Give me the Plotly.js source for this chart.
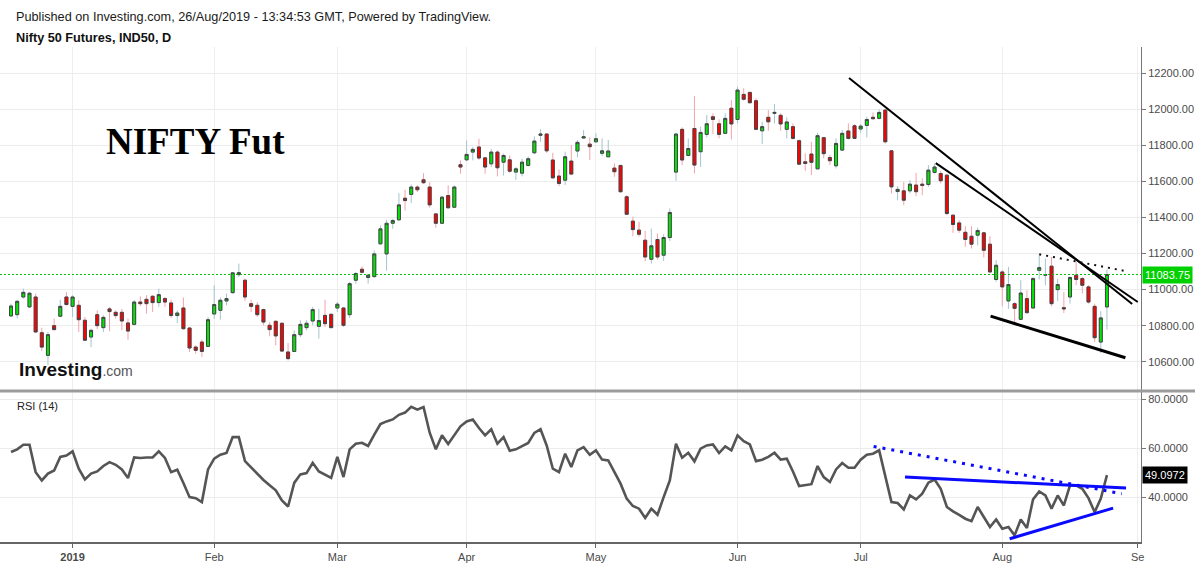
<!DOCTYPE html>
<html><head><meta charset="utf-8">
<script src="https://cdn.plot.ly/plotly-3.0.1.min.js"></script>
<style>html,body{margin:0;padding:0;background:#fff;}#chart{width:1200px;height:565px;}</style>
</head><body><div id="chart"></div>
<script>
// ---- Daily OHLC, Nifty 50 Futures (bar order, oldest first) ----
const openP = [10854,10861,10959,10904,10959,10761,10635,10800,10852,10959,
10907,10913,10830,10737,10861,10789,10893,10874,10874,10815,
10807,10931,10946,10963,10928,10950,10926,10856,10898,10787,
10681,10709,10685,10865,10885,10937,10983,11083,11052,10922,
10913,10889,10802,10824,10813,10654,10657,10750,10789,10826,
10796,10857,10863,10898,10898,10861,11052,11113,11067,11072,
11254,11198,11368,11387,11507,11528,11569,11609,11569,11420,
11368,11522,11457,11693,11720,11763,11791,11731,11698,11763,
11707,11720,11652,11646,11689,11759,11856,11863,11719,11630,
11607,11713,11769,11841,11807,11820,11756,11737,11674,11689,
11515,11380,11330,11274,11168,11278,11191,11289,11652,11889,
11744,11894,11765,11861,11959,11920,11867,12006,11944,12083,
12094,12048,11881,11956,11978,11967,11889,11904,11826,11709,
11752,11670,11843,11733,11687,11774,11880,11909,11891,11911,
11956,11950,11996,11770,11544,11548,11548,11580,11585,11583,
11650,11644,11635,11413,11370,11318,11296,11302,11315,11252,
11056,11098,10937,10922,10835,10950,10898,11107,11080,11130,
11000,10900,10959,11080,11061,11015,10907,10709,10904];
const highP = [10922,10944,11006,10987,10978,10789,10765,10839,10944,10987,
10969,10941,10848,10783,10885,10857,10904,10885,10893,10839,
10941,10963,10969,10969,11006,10959,10944,10885,10956,10793,
10691,10722,10848,11024,10956,10978,11098,11144,11061,10944,
10931,10894,10820,10830,10820,10704,10774,10830,10830,10904,
10894,10944,10867,10931,10904,11043,11098,11130,11085,11217,
11356,11387,11393,11535,11554,11583,11578,11646,11596,11424,
11517,11578,11578,11717,11828,11791,11837,11735,11781,11772,
11754,11744,11680,11726,11739,11850,11889,11867,11759,11667,
11765,11802,11830,11885,11844,11867,11839,11830,11700,11691,
11524,11404,11376,11326,11339,11311,11307,11450,11870,11900,
11839,12074,11904,11969,11978,11944,11978,12052,12126,12117,
12098,12061,11931,11996,12030,11978,11956,11922,11833,11756,
11820,11870,11848,11746,11839,11885,11922,11917,11919,11959,
11983,12000,12000,11774,11574,11598,11607,11648,11617,11691,
11700,11659,11641,11417,11385,11352,11352,11344,11320,11296,
11163,11107,11126,10931,11052,10996,11070,11196,11172,11181,
11061,10987,11074,11154,11070,11024,10922,10880,11111];
const lowP = [10848,10839,10950,10900,10759,10659,10580,10774,10848,10913,
10848,10765,10715,10681,10781,10765,10769,10839,10774,10722,
10802,10909,10867,10876,10904,10904,10843,10815,10778,10654,
10644,10626,10681,10839,10833,10913,10978,11070,10937,10876,
10848,10802,10741,10691,10654,10607,10654,10737,10774,10802,
10728,10793,10785,10876,10793,10843,11033,11089,11033,11068,
11250,11105,11337,11383,11439,11480,11541,11587,11454,11343,
11365,11448,11454,11643,11713,11717,11720,11643,11680,11628,
11633,11648,11609,11628,11683,11754,11820,11759,11615,11574,
11580,11635,11733,11837,11719,11815,11741,11733,11626,11537,
11413,11296,11293,11157,11144,11167,11159,11270,11604,11691,
11741,11644,11681,11844,11863,11839,11863,11833,11922,12048,
12030,11885,11807,11881,11922,11881,11839,11833,11691,11659,
11635,11667,11728,11691,11672,11770,11833,11835,11870,11844,
11944,11944,11811,11533,11496,11468,11533,11518,11524,11570,
11644,11589,11413,11315,11315,11237,11228,11246,11178,11093,
11043,10907,10894,10806,10833,10867,10894,11056,11024,10907,
10937,10870,10922,11024,10978,10922,10709,10648,10778];
const closeP = [10909,10935,10985,10980,10765,10681,10750,10778,10907,10917,
10959,10833,10719,10774,10800,10846,10878,10856,10826,10770,
10931,10922,10922,10928,10972,10931,10856,10870,10783,10676,
10663,10657,10833,10917,10941,10950,11093,11094,10959,10907,
10861,10820,10778,10743,10659,10617,10750,10807,10813,10889,
10828,10811,10789,10919,10802,11033,11089,11096,11080,11198,
11337,11368,11383,11470,11494,11569,11554,11593,11470,11368,
11513,11454,11569,11680,11750,11778,11730,11680,11763,11676,
11744,11657,11670,11707,11726,11824,11863,11770,11620,11589,
11737,11641,11817,11848,11793,11837,11770,11769,11654,11543,
11418,11333,11307,11181,11243,11181,11289,11428,11863,11719,
11783,11691,11872,11920,11944,11861,11950,11919,12107,12056,
12037,11889,11904,11931,11983,11919,11930,11839,11696,11700,
11706,11854,11754,11715,11811,11867,11839,11839,11907,11944,
11948,11983,11820,11570,11556,11496,11585,11543,11578,11663,
11680,11604,11422,11361,11330,11278,11252,11328,11218,11098,
11135,11015,11028,10896,10981,10872,11061,11122,11083,10922,
11028,10893,11067,11056,11024,10931,10733,10843,11083.75];
// ---- RSI (14) ----
const rsi = [58.5,59.6,61.5,61.5,50.3,46.9,49.7,51.0,56.5,57.1,
58.8,51.7,47.3,49.7,50.6,52.8,54.4,53.3,51.4,47.9,
56.3,56.1,56.3,56.3,58.8,56.1,50.3,51.3,45.9,40.1,
39.7,38.1,51.4,55.8,57.4,58.1,64.6,64.6,54.8,52.2,
49.4,47.1,45.0,42.9,38.8,36.3,45.9,49.4,49.9,54.1,
50.6,49.4,48.0,56.5,48.3,59.6,61.9,62.3,61.0,65.6,
69.9,71.0,71.8,73.7,74.6,77.0,75.8,76.9,66.4,59.6,
65.3,61.8,65.6,69.0,71.0,71.8,68.3,65.3,67.8,61.9,
64.6,59.0,59.6,60.8,62.2,66.3,67.8,61.2,51.7,50.3,
57.8,52.4,59.2,60.5,57.4,59.2,55.4,55.1,50.3,45.6,
39.5,36.5,35.4,31.6,35.4,32.9,40.1,46.9,61.9,56.2,
58.2,54.7,59.9,61.2,61.6,58.1,60.8,59.2,65.3,62.9,
61.6,54.8,55.4,56.5,58.2,55.4,55.8,50.6,44.6,44.9,
45.4,52.8,48.3,46.3,51.4,54.0,52.1,52.1,55.4,57.4,
57.8,59.2,48.6,38.1,37.7,35.1,40.8,39.2,41.5,46.0,
47.3,43.5,36.1,34.3,32.9,31.3,30.3,36.1,32.0,27.9,
31.0,27.2,27.9,24.5,31.0,27.5,39.2,42.4,40.8,35.4,
40.8,36.7,44.9,44.9,43.5,39.7,34.0,39.5,49.0972];
const lastPrice = 11083.75;
const lastRsi = 49.0972;
// ---- axis ticks ----
const monthTickIdx = [10,33,53,74,95,118,138,161,183];
const monthTickText = ['<b>2019</b>','Feb','Mar','Apr','May','Jun','Jul','Aug','Se'];
const priceTicks = [10600,10800,11000,11200,11400,11600,11800,12000,12200];
const rsiTicks = [40,60,80];
// ---- hand-drawn trend lines: [barFrom, valueFrom, barTo, valueTo] ----
const priceTrendA = [136.1,12174,182.1,10920];
const priceTrendB = [150.2,11702,183.0,10931];
const priceSupport = [159.1,10853,181.0,10622];
const priceDotted = [167.0,11196,180.7,11105];
const rsiDotted = [140.1,60.8,180.4,41.5];
const rsiUpper = [145.2,48.3,181.1,43.8];
const rsiLower = [162.2,23.1,179.0,35.6];

const idx = openP.map((_, i) => i);
const bodyHigh = openP.map((o, i) => Math.max(o, closeP[i]));
const bodyLow = openP.map((o, i) => Math.min(o, closeP[i]));

const FONT = 'Liberation Sans, Arial, sans-serif';

const traces = [
  { type:'candlestick', x:idx, open:openP, high:highP, low:lowP, close:closeP,
    xaxis:'x', yaxis:'y', hoverinfo:'skip', showlegend:false, whiskerwidth:0,
    increasing:{line:{color:'#a3c4cf', width:1}, fillcolor:'rgba(0,0,0,0)'},
    decreasing:{line:{color:'#f3a3ab', width:1}, fillcolor:'rgba(0,0,0,0)'} },
  { type:'candlestick', x:idx, open:openP, high:bodyHigh, low:bodyLow, close:closeP,
    xaxis:'x', yaxis:'y', hoverinfo:'skip', showlegend:false, whiskerwidth:0,
    increasing:{line:{color:'#444444', width:1}, fillcolor:'#00e600'},
    decreasing:{line:{color:'#444444', width:1}, fillcolor:'#ff0000'} },
  { type:'scatter', mode:'lines', x:idx, y:rsi, xaxis:'x', yaxis:'y2',
    line:{color:'#555555', width:2.6}, hoverinfo:'skip', showlegend:false }
];

function seg(a, yref, color, width, dash) {
  return { type:'line', xref:'x', yref:yref, x0:a[0], y0:a[1], x1:a[2], y1:a[3],
           line:{color:color, width:width, dash:dash || 'solid'}, layer:'above' };
}

const plotW = 1141, paperH = 495, plotBottom = 542;
const py = (pix) => (plotBottom - pix) / paperH;
const px = (pix) => pix / plotW;

const shapes = [
  { type:'line', xref:'paper', yref:'y', x0:0, x1:1, y0:lastPrice, y1:lastPrice,
    line:{color:'#00c400', width:1, dash:'2px,2px'}, layer:'above' },
  seg(priceTrendA, 'y', '#000000', 2),
  seg(priceTrendB, 'y', '#000000', 2),
  seg(priceSupport, 'y', '#000000', 3),
  seg(priceDotted, 'y', '#111111', 2, '2px,5px'),
  seg(rsiDotted, 'y2', '#0a0aff', 3, '3px,6px'),
  seg(rsiUpper, 'y2', '#0a0aff', 3),
  seg(rsiLower, 'y2', '#0a0aff', 3),
  { type:'line', xref:'paper', yref:'paper', x0:0, x1:px(1195), y0:py(391), y1:py(391),
    line:{color:'#9c9c9c', width:3}, layer:'above' }
];

const annotations = [
  { xref:'paper', yref:'paper', x:px(14), y:py(17), xanchor:'left', yanchor:'middle', showarrow:false,
    text:'Published on Investing.com, 26/Aug/2019 - 13:34:53 GMT, Powered by TradingView.',
    font:{family:FONT, size:12.7, color:'#1a1a1a'} },
  { xref:'paper', yref:'paper', x:px(14), y:py(38), xanchor:'left', yanchor:'middle', showarrow:false,
    text:'<b>Nifty 50 Futures, IND50, D</b>', font:{family:FONT, size:12.7, color:'#111'} },
  { xref:'paper', yref:'paper', x:px(104), y:py(141), xanchor:'left', yanchor:'middle', showarrow:false,
    text:'<b>NIFTY Fut</b>', font:{family:'Liberation Serif, Times New Roman, serif', size:37, color:'#000'} },
  { xref:'paper', yref:'paper', x:px(17), y:py(369), xanchor:'left', yanchor:'middle', showarrow:false,
    text:'<b>Investing</b><span style="font-size:14px;color:#555">.com</span>',
    font:{family:FONT, size:19, color:'#111'} },
  { xref:'paper', yref:'paper', x:px(15), y:py(406), xanchor:'left', yanchor:'middle', showarrow:false,
    text:'RSI (14)', font:{family:FONT, size:11, color:'#222'} },
  { xref:'paper', yref:'y', x:1, y:lastPrice, xanchor:'left', yanchor:'middle', xshift:1, showarrow:false,
    text:String(lastPrice), bgcolor:'#00d000', borderpad:2,
    font:{family:FONT, size:11, color:'#ffffff'} },
  { xref:'paper', yref:'y2', x:1, y:lastRsi, xanchor:'left', yanchor:'middle', xshift:1, showarrow:false,
    text:String(lastRsi), bgcolor:'#000000', borderpad:2,
    font:{family:FONT, size:11, color:'#ffffff'} }
];

const axisFont = {family:FONT, size:11, color:'#4a4a4a'};

const layout = {
  width:1200, height:565,
  margin:{l:0, r:59, t:47, b:23},
  paper_bgcolor:'#ffffff', plot_bgcolor:'#ffffff',
  showlegend:false,
  xaxis:{ range:[-1.79, 183.53], anchor:'y2', tickmode:'array', tickvals:monthTickIdx, ticktext:monthTickText,
    showgrid:true, gridcolor:'#eeeeee', zeroline:false, showline:true, linecolor:'#666', linewidth:2,
    ticks:'outside', ticklen:4, tickcolor:'#666', tickfont:axisFont, rangeslider:{visible:false},
    fixedrange:true },
  yaxis:{ domain:[py(390), 1], range:[10443, 12346], side:'right', anchor:'x', tickmode:'array',
    tickvals:priceTicks, tickformat:'.2f', showgrid:true, gridcolor:'#ececec', zeroline:false,
    showline:true, linecolor:'#777', linewidth:1, ticks:'outside', ticklen:4, tickcolor:'#777',
    tickfont:axisFont },
  yaxis2:{ domain:[0, py(392)], range:[21.8, 83.0], side:'right', anchor:'x', tickmode:'array',
    tickvals:rsiTicks, tickformat:'.4f', showgrid:true, gridcolor:'#ececec', zeroline:false,
    showline:true, linecolor:'#777', linewidth:1, ticks:'outside', ticklen:4, tickcolor:'#777',
    tickfont:axisFont },
  shapes:shapes,
  annotations:annotations
};

Plotly.newPlot('chart', traces, layout, {displayModeBar:false, staticPlot:true});
</script>
</body></html>
